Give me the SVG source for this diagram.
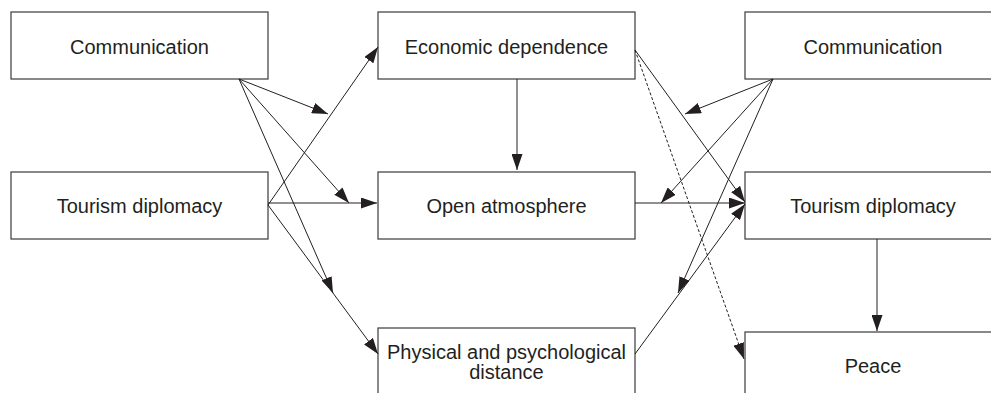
<svg xmlns="http://www.w3.org/2000/svg" width="991" height="393" viewBox="0 0 991 393">
<style>
.box{fill:#fff;stroke:#3a3a3a;stroke-width:1.2}
.lbl{font-family:"Liberation Sans",Arial,sans-serif;font-size:20px;fill:#231f20;text-anchor:middle}
.c{fill:none;stroke:#231f20;stroke-width:1}
.d{stroke-dasharray:3,2}
</style>
<defs>
<marker id="ah" markerWidth="16" markerHeight="11" refX="16" refY="5.5" orient="auto" markerUnits="userSpaceOnUse">
<path d="M0,0 L16,5.5 L0,11 z" fill="#231f20"/>
</marker>
</defs>
<rect width="991" height="393" fill="#fff"/>
<g id="comm-left"><rect class="box" x="11" y="12" width="257" height="67"/><text class="lbl" x="139.5" y="53.5">Communication</text></g>
<g id="tourism-left"><rect class="box" x="11" y="172" width="257" height="67"/><text class="lbl" x="139.5" y="213">Tourism diplomacy</text></g>
<g id="economic"><rect class="box" x="378" y="12" width="257" height="67"/><text class="lbl" x="506.5" y="53.5">Economic dependence</text></g>
<g id="open"><rect class="box" x="378" y="172" width="257" height="67"/><text class="lbl" x="506.5" y="213">Open atmosphere</text></g>
<g id="distance"><rect class="box" x="378" y="328" width="257" height="80"/><text class="lbl" x="506.5" y="359">Physical and psychological</text><text class="lbl" x="506.5" y="379">distance</text></g>
<g id="comm-right"><rect class="box" x="745" y="12" width="256" height="67"/><text class="lbl" x="873" y="53.5">Communication</text></g>
<g id="tourism-right"><rect class="box" x="745" y="172" width="256" height="67"/><text class="lbl" x="873" y="213">Tourism diplomacy</text></g>
<g id="peace"><rect class="box" x="745" y="332" width="256" height="80"/><text class="lbl" x="873" y="373">Peace</text></g>
<g id="connectors">
<line class="c" x1="239" y1="79" x2="328" y2="114" marker-end="url(#ah)"/>
<line class="c" x1="239" y1="79" x2="349" y2="203" marker-end="url(#ah)"/>
<line class="c" x1="239" y1="79" x2="333" y2="293" marker-end="url(#ah)"/>
<line class="c" x1="268" y1="205" x2="378" y2="47" marker-end="url(#ah)"/>
<line class="c" x1="268" y1="203" x2="377" y2="203" marker-end="url(#ah)"/>
<line class="c" x1="268" y1="205" x2="378" y2="354" marker-end="url(#ah)"/>
<line class="c" x1="517" y1="79" x2="517" y2="170" marker-end="url(#ah)"/>
<line class="c" x1="635" y1="50" x2="745" y2="202" marker-end="url(#ah)"/>
<line class="c d" x1="635" y1="50" x2="744" y2="359" marker-end="url(#ah)"/>
<line class="c" x1="635" y1="203" x2="745" y2="203" marker-end="url(#ah)"/>
<line class="c" x1="635" y1="354" x2="745" y2="204" marker-end="url(#ah)"/>
<line class="c" x1="773" y1="79" x2="685" y2="114" marker-end="url(#ah)"/>
<line class="c" x1="773" y1="79" x2="661" y2="203" marker-end="url(#ah)"/>
<line class="c" x1="773" y1="79" x2="678" y2="293" marker-end="url(#ah)"/>
<line class="c" x1="877" y1="239" x2="877" y2="331" marker-end="url(#ah)"/>
</g>
</svg>
